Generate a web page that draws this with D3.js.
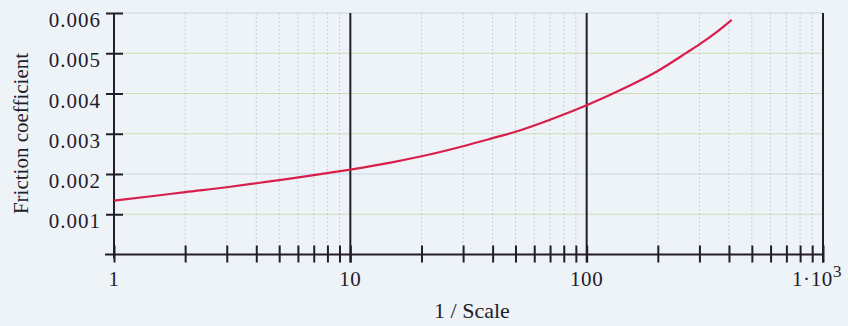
<!DOCTYPE html>
<html><head><meta charset="utf-8">
<script src="https://cdn.jsdelivr.net/npm/d3@7"></script>
<style>
html,body{margin:0;padding:0;background:#eef3f8;}
svg{display:block;}
text{font-family:"Liberation Serif","Times New Roman",serif;fill:#231c2a;}
</style></head>
<body><svg id="c" width="848" height="326"></svg>
<script>
// Data
const scaleInv = [1, 1.5, 2, 3, 4, 5, 7, 10, 15, 20, 30, 40, 50, 70, 100, 150, 200, 266, 300, 350, 411];
const friction = [0.00134, 0.00146, 0.00155, 0.00167, 0.00177, 0.00185, 0.00197, 0.00211, 0.00229, 0.00244,
                  0.00269, 0.00289, 0.00305, 0.00335, 0.00371, 0.00418, 0.00456, 0.00502, 0.00522, 0.00550, 0.00583];
const yTicks = [0.001, 0.002, 0.003, 0.004, 0.005, 0.006];
const yTickLabels = ["0.001", "0.002", "0.003", "0.004", "0.005", "0.006"];
const xMajor = [1, 10, 100, 1000];
const xMajorLabels = ["1", "10", "100", "1·10"];
const xTitle = "1 / Scale";
const yTitle = "Friction coefficient";

const svg = d3.select("#c");
const x = d3.scaleLog().domain([1, 1000]).range([114, 823]);
const y = d3.scaleLinear().domain([0, 0.006]).range([254.5, 13]);
const ink = "#231c2a";

// minor ticks
const xMinor = [];
[1, 10, 100].forEach(d => { for (let k = 2; k <= 9; k++) xMinor.push(d * k); });

// horizontal grid
const gridColor = v => (Math.abs(v - 0.002) < 1e-9 || Math.abs(v - 0.006) < 1e-9) ? "#c4d7e6" : "#cfdcb6";
svg.append("g").selectAll("line").data(yTicks).join("line")
  .attr("x1", 114).attr("x2", 823)
  .attr("y1", d => y(d)).attr("y2", d => y(d))
  .attr("stroke", d => gridColor(d)).attr("stroke-width", 1.2);

// vertical minor grid (dotted)
svg.append("g").selectAll("line").data(xMinor).join("line")
  .attr("x1", d => x(d)).attr("x2", d => x(d))
  .attr("y1", y(0.006)).attr("y2", y(0))
  .attr("stroke", "#b5c7d2").attr("stroke-width", 1).attr("stroke-dasharray", "1.5,2.5");

// x axis ticks
const xAxis = d3.axisBottom(x).tickValues(xMinor.concat(xMajor)).tickSize(0).tickFormat("");
const gx = svg.append("g").attr("transform", `translate(0,${y(0)})`).call(xAxis);
gx.select(".domain").remove();
gx.selectAll(".tick line").remove();
gx.selectAll(".tick").append("line")
  .attr("y1", -9).attr("y2", 8).attr("stroke", ink).attr("stroke-width", 2);

// x axis line
svg.append("line").attr("x1", 105).attr("x2", x(1000)).attr("y1", y(0)).attr("y2", y(0))
  .attr("stroke", ink).attr("stroke-width", 2);

// major vertical lines
svg.append("g").selectAll("line").data(xMajor).join("line")
  .attr("x1", d => x(d)).attr("x2", d => x(d))
  .attr("y1", y(0.006)).attr("y2", d => d === 1 ? y(0) + 4 : y(0) + 8)
  .attr("stroke", ink).attr("stroke-width", 2);

// y ticks
const gy = svg.append("g").attr("transform", `translate(${x(1)},0)`)
  .call(d3.axisLeft(y).tickValues(yTicks).tickSize(0).tickFormat(""));
gy.select(".domain").remove();
gy.selectAll(".tick").append("line").attr("x1", -8).attr("x2", 9)
  .attr("stroke", ink).attr("stroke-width", 2);
gy.selectAll(".tick").append("text")
  .attr("x", -13).attr("y", 13.5).attr("text-anchor", "end")
  .style("font-size", "21px").style("letter-spacing", "1px")
  .text((d, i) => yTickLabels[i]);

// x tick labels
svg.append("g").selectAll("text").data(xMajor).join("text")
  .attr("x", d => d === 1000 ? x(d) - 6 : x(d))
  .attr("y", 285.5).attr("text-anchor", "middle").style("font-size", "21px").style("letter-spacing", "0.6px")
  .each(function(d, i) {
    const t = d3.select(this);
    t.text(xMajorLabels[i]);
    if (d === 1000) t.append("tspan").attr("dy", -9).style("font-size", "17px").text("3");
  });

// curve
svg.append("path").datum(scaleInv.map((d, i) => [d, friction[i]]))
  .attr("fill", "none").attr("stroke", "#d81f4c").attr("stroke-width", 2.2)
  .attr("d", d3.line().x(d => x(d[0])).y(d => y(d[1])).curve(d3.curveMonotoneX));

// titles
svg.append("text").attr("x", 472).attr("y", 318).attr("text-anchor", "middle")
  .style("font-size", "22px").text(xTitle);
svg.append("text").attr("transform", "translate(27.5,133.5) rotate(-90)").attr("text-anchor", "middle")
  .style("font-size", "21px").text(yTitle);
</script></body></html>
